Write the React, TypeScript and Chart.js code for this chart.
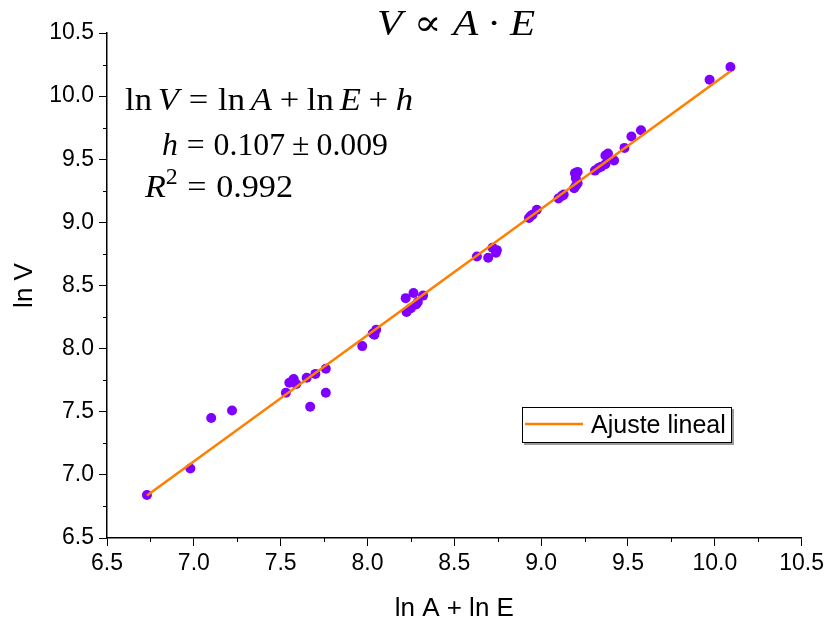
import React, { useEffect, useRef } from 'react';
import { Chart, registerables } from 'chart.js';

Chart.register(...registerables);

// ---- data ----
const xValues = [
  6.73, 6.98, 7.10, 7.22,
  7.53, 7.55, 7.575, 7.59, 7.57, 7.65, 7.70, 7.76, 7.67, 7.76,
  7.97, 8.03, 8.05, 8.04,
  8.22, 8.225, 8.25, 8.265, 8.28, 8.29, 8.32,
  8.63, 8.695, 8.72, 8.74, 8.745,
  8.93, 8.95, 8.975, 8.94,
  9.10, 9.12, 9.13,
  9.19, 9.20, 9.21, 9.20, 9.195, 9.21,
  9.31, 9.33, 9.345, 9.37, 9.37, 9.385, 9.42,
  9.48, 9.52, 9.575, 9.97, 10.09,
];
const yValues = [
  6.84, 7.05, 7.45, 7.51,
  7.65, 7.73, 7.76, 7.72, 7.75, 7.77, 7.80, 7.84, 7.54, 7.65,
  8.02, 8.12, 8.15, 8.11,
  8.40, 8.29, 8.32, 8.44, 8.35, 8.37, 8.42,
  8.73, 8.72, 8.80, 8.76, 8.78,
  9.035, 9.06, 9.10, 9.05,
  9.19, 9.21, 9.22,
  9.27, 9.29, 9.31, 9.35, 9.39, 9.40,
  9.41, 9.43, 9.44, 9.46, 9.53, 9.545, 9.49,
  9.59, 9.68, 9.73, 10.13, 10.23,
];
const fitX = [6.73, 10.09];
const fitY = [6.837, 10.197];

const axisMin = 6.5;
const axisMax = 10.5;
const majorStep = 0.5;
const minorStep = 0.25;

const xTitle = 'ln A + ln E';
const yTitle = 'ln V';
const legendLabel = 'Ajuste lineal';

type Run = { t?: string; i?: boolean; sp?: number; sup?: boolean };

const titleRuns: Run[] = [
  { t: 'V', i: true }, { sp: 0.28 }, { t: '∝' }, { sp: 0.28 },
  { t: 'A', i: true }, { sp: 0.22 }, { t: '·' }, { sp: 0.22 }, { t: 'E', i: true },
];
const eqLine1: Run[] = [
  { t: 'ln' }, { sp: 0.17 }, { t: 'V', i: true }, { sp: 0.28 }, { t: '=' }, { sp: 0.28 },
  { t: 'ln' }, { sp: 0.17 }, { t: 'A', i: true }, { sp: 0.22 }, { t: '+' }, { sp: 0.22 },
  { t: 'ln' }, { sp: 0.17 }, { t: 'E', i: true }, { sp: 0.22 }, { t: '+' }, { sp: 0.22 },
  { t: 'h', i: true },
];
const eqLine2: Run[] = [
  { t: 'h', i: true }, { sp: 0.28 }, { t: '=' }, { sp: 0.28 }, { t: '0.107' },
  { sp: 0.22 }, { t: '±' }, { sp: 0.22 }, { t: '0.009' },
];
const eqLine3: Run[] = [
  { t: 'R', i: true }, { t: '2', sup: true }, { sp: 0.28 }, { t: '=' }, { sp: 0.28 }, { t: '0.992' },
];

const SERIF = '"Liberation Serif", "DejaVu Serif", serif';
const SANS = '"Liberation Sans", Arial, sans-serif';

function runFont(r: Run, size: number) {
  const s = r.sup ? size * 0.7 : size;
  return `${r.i ? 'italic ' : ''}${s}px ${SERIF}`;
}

function drawMath(ctx: CanvasRenderingContext2D, runs: Run[], x: number, y: number, size: number, targetW: number) {
  let total = 0;
  for (const r of runs) {
    if (r.sp !== undefined) { total += r.sp * size; continue; }
    ctx.font = runFont(r, size);
    total += ctx.measureText(r.t || '').width;
  }
  const sx = targetW / total;
  ctx.save();
  ctx.translate(x, y);
  ctx.scale(sx, 1);
  ctx.fillStyle = '#000';
  ctx.textBaseline = 'alphabetic';
  ctx.textAlign = 'left';
  let cx = 0;
  for (const r of runs) {
    if (r.sp !== undefined) { cx += r.sp * size; continue; }
    ctx.font = runFont(r, size);
    ctx.fillText(r.t || '', cx, r.sup ? -size * 0.42 : 0);
    cx += ctx.measureText(r.t || '').width;
  }
  ctx.restore();
}

const decorPlugin = {
  id: 'decor',
  afterDraw(chart: any) {
    const ctx: CanvasRenderingContext2D = chart.ctx;
    const xs = chart.scales.x;
    const ys = chart.scales.y;
    ctx.save();
    // minor ticks
    ctx.strokeStyle = '#000';
    ctx.lineWidth = 1;
    ctx.beginPath();
    for (let v = axisMin + minorStep; v < axisMax; v += majorStep) {
      const px = Math.round(xs.getPixelForValue(v)) + 0.5;
      ctx.moveTo(px, ys.bottom);
      ctx.lineTo(px, ys.bottom + 4);
      const py = Math.round(ys.getPixelForValue(v)) + 0.5;
      ctx.moveTo(xs.left, py);
      ctx.lineTo(xs.left - 4, py);
    }
    ctx.stroke();

    // legend box
    const lx = 522, ly = 407, lw = 210, lh = 36;
    ctx.fillStyle = '#9a9a9a';
    ctx.fillRect(lx + 2, ly + 2, lw, lh);
    ctx.fillStyle = '#fff';
    ctx.fillRect(lx, ly, lw, lh);
    ctx.strokeStyle = '#000';
    ctx.lineWidth = 1;
    ctx.strokeRect(lx + 0.5, ly + 0.5, lw - 1, lh - 1);
    ctx.strokeStyle = '#FF7F00';
    ctx.lineWidth = 2.5;
    ctx.beginPath();
    ctx.moveTo(lx + 3, ly + 17);
    ctx.lineTo(lx + 61, ly + 17);
    ctx.stroke();
    ctx.fillStyle = '#000';
    ctx.font = `25px ${SANS}`;
    ctx.textBaseline = 'alphabetic';
    ctx.textAlign = 'left';
    ctx.fillText(legendLabel, lx + 69, ly + 26);

    // title and equations
    drawMath(ctx, titleRuns, 377, 35, 36, 158);
    drawMath(ctx, eqLine1, 125, 110, 32, 288);
    drawMath(ctx, eqLine2, 162, 155, 32, 226);
    drawMath(ctx, eqLine3, 145, 197, 32, 148);
    ctx.restore();
  },
};

export default function App() {
  const ref = useRef<HTMLCanvasElement | null>(null);
  useEffect(() => {
    if (!ref.current) return;
    const pts = xValues.map((x, i) => ({ x, y: yValues[i] }));
    const fit = fitX.map((x, i) => ({ x, y: fitY[i] }));
    const tickFont = { family: SANS, size: 23 };
    const chart = new Chart(ref.current, {
      type: 'scatter',
      data: {
        datasets: [
          {
            label: legendLabel,
            data: fit,
            showLine: true,
            borderColor: '#FF7F00',
            backgroundColor: '#FF7F00',
            borderWidth: 2.5,
            pointRadius: 0,
            order: 0,
          },
          {
            label: 'datos',
            data: pts,
            backgroundColor: '#7F00FF',
            borderWidth: 0,
            pointRadius: 5,
            order: 1,
          },
        ],
      },
      options: {
        responsive: false,
        animation: false,
        devicePixelRatio: 1,
        layout: { padding: { top: 33, right: 25, left: 0, bottom: 0 } },
        plugins: { legend: { display: false }, tooltip: { enabled: false }, title: { display: false } },
        scales: {
          x: {
            type: 'linear',
            min: axisMin,
            max: axisMax,
            afterFit: (s: any) => { s.height = 86; },
            ticks: { stepSize: majorStep, color: '#000', font: tickFont, padding: 4, maxRotation: 0,
              callback: (v: any) => Number(v).toFixed(1) },
            grid: { drawOnChartArea: false, drawTicks: true, tickLength: 8, color: '#000', tickColor: '#000' },
            border: { display: true, color: '#000', width: 1.5 },
            title: { display: true, text: xTitle, color: '#000', font: { family: SANS, size: 26 }, padding: { top: 0, bottom: 0 } },
          },
          y: {
            type: 'linear',
            min: axisMin,
            max: axisMax,
            afterFit: (s: any) => { s.width = 107; },
            ticks: { stepSize: majorStep, color: '#000', font: tickFont, padding: 5,
              callback: (v: any) => Number(v).toFixed(1) },
            grid: { drawOnChartArea: false, drawTicks: true, tickLength: 8, color: '#000', tickColor: '#000' },
            border: { display: true, color: '#000', width: 1.5 },
            title: { display: true, text: yTitle, color: '#000', font: { family: SANS, size: 26 }, padding: { top: 9, bottom: 0 } },
          },
        },
      },
      plugins: [decorPlugin],
    } as any);
    return () => chart.destroy();
  }, []);
  return (
    <div style={{ position: 'fixed', left: 0, top: 0, width: 828, height: 624, background: '#fff' }}>
      <canvas ref={ref} width={828} height={624} style={{ display: 'block' }} />
    </div>
  );
}
